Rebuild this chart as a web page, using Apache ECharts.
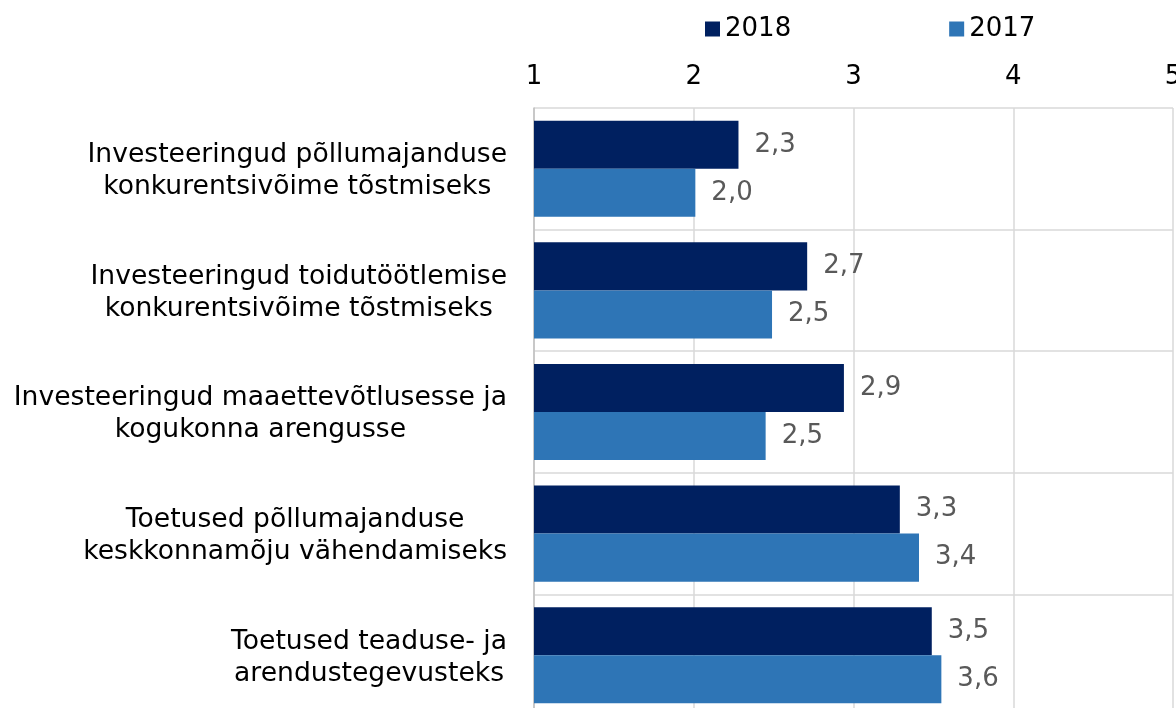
<!DOCTYPE html>
<html>
<head>
<meta charset="utf-8">
<script src="https://cdn.jsdelivr.net/npm/echarts@6/dist/echarts.min.js"></script>
<style>
  html, body { margin: 0; padding: 0; background: #fff; }
  #chart { width: 1176px; height: 708px; }
</style>
</head>
<body>
<div id="chart"></div>
<script>
// andmed
const categories = [
    'Investeeringud põllumajanduse\nkonkurentsivõime tõstmiseks',
    'Investeeringud toidutöötlemise\nkonkurentsivõime tõstmiseks',
    'Investeeringud maaettevõtlusesse ja\nkogukonna arengusse',
    'Toetused põllumajanduse\nkeskkonnamõju vähendamiseks',
    'Toetused teaduse- ja\narendustegevusteks'
];
const values2018 = [2.28, 2.71, 2.94, 3.29, 3.49];
const values2017 = [2.01, 2.49, 2.45, 3.41, 3.55];
const xTicks = [1, 2, 3, 4, 5];

const FONT = '"DejaVu Sans", Verdana, sans-serif';
const FS = 26;

//koma kui kümnendmärk
function fmt(v) {
    return (Math.round(v * 10 + 1e-9) / 10).toFixed(1).replace('.', ',');
}

const chart = echarts.init(document.getElementById('chart'));

chart.setOption({
    animation: false,
    textStyle: { fontFamily: FONT },
    legend: {
        left: 700,
        top: 11,
        itemWidth: 15,
        itemHeight: 15,
        itemGap: 158,
        icon: 'rect',
        textStyle: { fontSize: FS, color: '#000', fontFamily: FONT },
        data: ['2018', '2017']
    },
    grid: {
        left: 534,
        right: 3,
        top: 108,
        height: 608,
        containLabel: false,
        outerBoundsMode: 'none'
    },
    xAxis: {
        type: 'value',
        position: 'top',
        min: xTicks[0],
        max: xTicks[xTicks.length - 1],
        interval: 1,
        axisLine: { show: false },
        axisTick: { show: false },
        axisLabel: { fontSize: FS, color: '#000', margin: 18, fontFamily: FONT },
        splitLine: { lineStyle: { color: '#d9d9d9', width: 1.5 } }
    },
    yAxis: {
        type: 'category',
        inverse: true,
        data: categories,
        axisLine: { show: true, lineStyle: { color: '#bfbfbf', width: 1.5 } },
        axisTick: { show: false },
        splitLine: { show: true, lineStyle: { color: '#d9d9d9', width: 1.5 } },
        axisLabel: {
            margin: 27,
            padding: [5, 0, 0, 0],
            formatter: function (v) {
                return v.split('\n').map(l => '{c|' + l + '}').join('\n');
            },
            rich: {
                c: { align: 'center', fontSize: 26.6, lineHeight: 32, color: '#000', fontFamily: FONT }
            }
        }
    },
    series: [
        {
            name: '2018',
            type: 'bar',
            data: values2018,
            barGap: '0%',
            barCategoryGap: '21%',
            itemStyle: { color: '#002060' },
            label: {
                show: true, position: 'right', distance: 16,
                fontSize: FS, color: '#595959', fontFamily: FONT,
                formatter: p => fmt(p.value)
            }
        },
        {
            name: '2017',
            type: 'bar',
            data: values2017,
            barGap: '0%',
            barCategoryGap: '21%',
            itemStyle: { color: '#2e75b6' },
            label: {
                show: true, position: 'right', distance: 16,
                fontSize: FS, color: '#595959', fontFamily: FONT,
                formatter: p => fmt(p.value)
            }
        }
    ]
});
</script>
</body>
</html>
